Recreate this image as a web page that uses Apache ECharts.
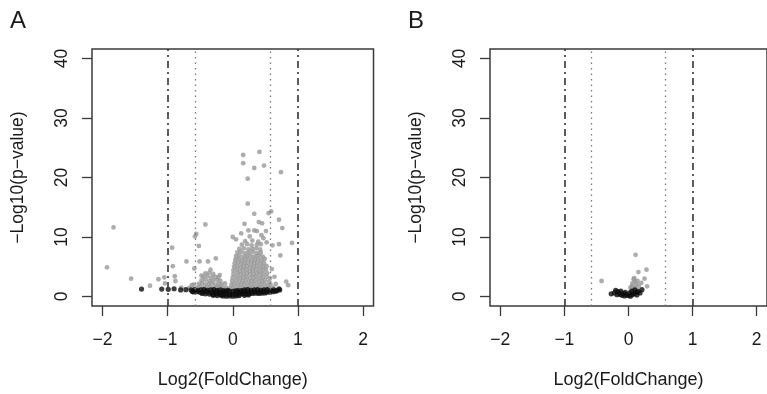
<!DOCTYPE html>
<html>
<head>
<meta charset="utf-8">
<script src="https://cdn.jsdelivr.net/npm/echarts@6/dist/echarts.min.js"></script>
<style>html,body{margin:0;padding:0;background:#fff}#c{width:767px;height:394px}</style>
</head>
<body>
<div id="c"></div>
<script>
const panelLabels = ['A', 'B'];
const xTitle = 'Log2(FoldChange)';
const yTitle = '\u2212Log10(p\u2212value)';
const xTicks = [-2, -1, 0, 1, 2];
const yTicks = [0, 10, 20, 30, 40];
const foldCutoffs = [-1, 1];
const fcDotted = [-0.585, 0.585];

// Panel A: significant (gray) points
const aGray = [
  [-1.93,4.9],[-1.83,11.6],[-1.56,3.0],[-1.27,1.8],[-1.14,2.9],[-1.05,3.2],[-1.04,2.2],
  [-0.93,8.2],[-0.92,5.1],[-0.89,3.4],[-0.88,2.6],[-0.79,1.5],[-0.71,5.9],[-0.67,1.4],
  [-0.60,2.0],[-0.59,4.7],[-0.56,10.5],[-0.58,10.1],[-0.52,8.5],[-0.51,5.9],[-0.42,12.1],
  [-0.38,5.9],[-0.26,6.4],[-0.63,1.9],[-0.48,3.5],[-0.20,3.6],[-0.12,2.2],
  [0.16,23.8],[0.41,24.3],[0.16,22.4],[0.48,22.0],[0.33,21.6],[0.74,20.9],[0.23,19.8],
  [0.23,15.6],[0.59,14.3],[0.55,14.0],[0.33,13.9],[0.71,12.9],[0.40,12.5],[0.45,12.3],
  [0.18,12.2],[0.76,11.5],[0.24,11.1],[0.33,11.1],[0.37,11.0],[0.51,11.0],[0.13,10.6],
  [0.00,10.0],[0.05,9.6],[0.26,10.1],[0.44,10.3],[0.47,9.8],[0.52,9.1],[0.61,8.6],
  [0.91,9.0],[0.71,8.8],[0.73,6.9],[0.82,2.5],[0.85,1.9],[0.66,2.1],[0.64,3.3],[0.60,4.6],
  // left cloud
  [-0.55,1.5],[-0.50,1.6],[-0.45,1.4],[-0.40,1.5],[-0.35,1.6],[-0.30,1.4],[-0.25,1.5],[-0.20,1.6],[-0.15,1.4],[-0.10,1.5],
  [-0.52,2.1],[-0.47,2.2],[-0.42,2.0],[-0.37,2.1],[-0.32,2.2],[-0.27,2.0],[-0.22,2.1],[-0.17,2.0],
  [-0.48,2.7],[-0.42,2.8],[-0.36,2.6],[-0.30,2.7],[-0.24,2.8],[-0.19,2.6],
  [-0.45,3.3],[-0.39,3.4],[-0.33,3.2],[-0.27,3.3],[-0.22,3.2],
  [-0.42,3.9],[-0.36,4.0],[-0.30,3.8],[-0.34,4.5],
  // right cloud
  [-0.04,1.4],[0.01,1.5],[0.06,1.3],[0.11,1.4],[0.16,1.5],[0.21,1.3],[0.26,1.4],[0.31,1.5],[0.36,1.3],[0.41,1.4],[0.46,1.5],[0.51,1.3],[0.56,1.4],[0.62,1.5],
  [-0.02,2.0],[0.03,2.1],[0.08,1.9],[0.13,2.0],[0.18,2.1],[0.23,1.9],[0.28,2.0],[0.33,2.1],[0.38,1.9],[0.43,2.0],[0.48,2.1],[0.53,1.9],[0.58,2.0],
  [-0.01,2.6],[0.05,2.7],[0.10,2.5],[0.15,2.6],[0.20,2.7],[0.25,2.5],[0.30,2.6],[0.35,2.7],[0.40,2.5],[0.45,2.6],[0.50,2.7],[0.56,2.5],
  [0.00,3.2],[0.06,3.3],[0.11,3.1],[0.16,3.2],[0.21,3.3],[0.26,3.1],[0.31,3.2],[0.36,3.3],[0.41,3.1],[0.46,3.2],[0.52,3.3],[0.57,3.1],
  [0.01,3.8],[0.07,3.9],[0.12,3.7],[0.17,3.8],[0.22,3.9],[0.27,3.7],[0.32,3.8],[0.37,3.9],[0.42,3.7],[0.47,3.8],[0.53,3.9],
  [0.01,4.4],[0.06,4.5],[0.11,4.3],[0.16,4.4],[0.21,4.5],[0.26,4.3],[0.31,4.4],[0.36,4.5],[0.41,4.3],[0.46,4.4],[0.51,4.5],
  [0.02,5.0],[0.07,5.1],[0.12,4.9],[0.17,5.0],[0.22,5.1],[0.27,4.9],[0.32,5.0],[0.37,5.1],[0.42,4.9],[0.47,5.0],[0.52,5.1],
  [0.03,5.6],[0.08,5.7],[0.13,5.5],[0.18,5.6],[0.23,5.7],[0.28,5.5],[0.33,5.6],[0.38,5.7],[0.43,5.5],[0.48,5.6],
  [0.04,6.2],[0.09,6.3],[0.14,6.1],[0.19,6.2],[0.24,6.3],[0.29,6.1],[0.34,6.2],[0.39,6.3],[0.44,6.1],[0.49,6.3],
  [0.05,6.8],[0.10,6.9],[0.16,6.7],[0.21,6.8],[0.26,6.9],[0.31,6.7],[0.36,6.8],[0.41,6.9],[0.46,6.7],
  [0.07,7.4],[0.13,7.5],[0.19,7.3],[0.25,7.4],[0.31,7.5],[0.37,7.3],[0.43,7.4],
  [0.10,8.0],[0.17,8.1],[0.24,7.9],[0.30,8.0],[0.36,8.1],[0.42,7.9],
  [0.14,8.7],[0.22,8.8],[0.29,8.6],[0.37,8.7],[0.43,8.8],
  [0.19,9.3],[0.30,9.4],[0.39,9.2]
];

// Panel A: non-significant (black) points
const aBlack = [
  [-1.40,1.25],[-1.09,1.25],[-0.99,1.2],[-0.90,1.3],[-0.80,1.1],[-0.72,1.15],[0.71,1.3],[0.72,1.1],
  [-0.64,1.1],[-0.59,1.15],[-0.54,1.05],[-0.49,1.1],[-0.44,1.15],[-0.39,1.05],[-0.34,1.1],[-0.29,1.15],[-0.24,1.05],[-0.19,1.1],[-0.14,1.0],
  [0.13,1.0],[0.18,1.1],[0.23,1.15],[0.28,1.05],[0.33,1.1],[0.38,1.15],[0.43,1.05],[0.48,1.1],[0.53,1.15],[0.58,1.05],[0.63,1.1],[0.68,1.0],
  [-0.62,0.85],[-0.60,0.75],[-0.55,0.8],[-0.50,0.7],[-0.45,0.75],[-0.40,0.8],[-0.35,0.7],[-0.30,0.75],[-0.25,0.8],[-0.20,0.7],[-0.15,0.75],[-0.10,0.8],
  [0.07,0.75],[0.12,0.7],[0.17,0.8],[0.22,0.75],[0.27,0.7],[0.32,0.8],[0.37,0.75],[0.42,0.7],[0.47,0.8],[0.52,0.75],[0.57,0.7],[0.62,0.8],[0.66,0.9],
  [-0.47,0.5],[-0.42,0.45],[-0.36,0.4],[-0.30,0.35],[-0.25,0.45],[-0.20,0.4],[-0.15,0.35],[-0.10,0.4],[-0.05,0.35],[0.00,0.4],[0.05,0.35],
  [0.10,0.4],[0.15,0.45],[0.20,0.4],[0.25,0.45],[0.30,0.5],[0.35,0.55],[0.40,0.5],[0.45,0.55],[0.50,0.6],
  [-0.30,0.2],[-0.24,0.15],[-0.18,0.2],[0.18,0.2],[0.24,0.25],
  [-0.15,0.1],[-0.10,0.05],[-0.05,0.1],[0.00,0.05],[0.05,0.1],[0.10,0.15],
  [-0.05,0.9],[0.00,0.85],[0.04,0.95],[-0.08,1.05],[0.08,1.0]
];

// Panel B
const bGray = [
  [-0.42,2.6],[0.11,7.0],[0.28,4.5],[0.155,4.1],[0.25,3.0],[0.08,2.9],[0.10,2.5],[0.06,2.2],
  [0.12,2.0],[0.09,3.1],[0.14,2.6],[0.05,1.7],[0.03,1.5],[0.07,1.3],[0.16,1.8],[0.29,1.7],
  [0.20,2.3],[0.10,1.5]
];
const bBlack = [
  [-0.27,0.45],[-0.20,1.05],[-0.17,0.8],[-0.15,0.6],[-0.13,0.35],[-0.10,0.2],[-0.08,0.5],
  [-0.06,0.1],[-0.03,0.3],[0.00,0.15],[0.03,0.05],[0.06,0.3],[0.09,0.5],[0.12,0.7],[0.15,0.9],
  [0.18,0.6],[0.21,1.15],[-0.18,0.3],[-0.12,0.9],[0.02,0.6],[-0.05,0.7],[0.05,0.9],[0.13,0.25],
  [-0.22,0.6],[0.10,1.1]
];

const FONT = '"Liberation Sans", Arial, Helvetica, sans-serif';
const AX = '#3a3a3a';
const TXT = '#1a1a1a';
const GRAY = '#999999';
const BLACK = '#0d0d0d';

function fmt(v) { return v < 0 ? '\u2212' + Math.abs(v) : String(v); }

const grids = [
  {left: 92, top: 49, width: 281.5, height: 260},
  {left: 490, top: 49, width: 281.5, height: 260}
];

function xAx(i) {
  return {
    gridIndex: i, type: 'value', min: -2.16, max: 2.16,
    axisLine: {show: false, onZero: false}, splitLine: {show: false},
    axisTick: {show: true, length: 10, customValues: xTicks, lineStyle: {color: AX, width: 1.3}},
    axisLabel: {customValues: xTicks, formatter: fmt, margin: 25, color: TXT, fontSize: 17.5, fontFamily: FONT},
    name: xTitle, nameLocation: 'middle', nameGap: 65,
    nameTextStyle: {color: TXT, fontSize: 18, fontFamily: FONT}
  };
}
function yAx(i) {
  return {
    gridIndex: i, type: 'value', min: -1.6, max: 41.6,
    axisLine: {show: false, onZero: false}, splitLine: {show: false},
    axisTick: {show: true, length: 10, customValues: yTicks, lineStyle: {color: AX, width: 1.3}},
    axisLabel: {customValues: yTicks, formatter: fmt, rotate: 90, margin: 21, color: TXT, fontSize: 17.5, fontFamily: FONT},
    name: yTitle, nameLocation: 'middle', nameGap: 65,
    nameTextStyle: {color: TXT, fontSize: 17.5, fontFamily: FONT}
  };
}

function vlines() {
  const d = [];
  foldCutoffs.forEach(v => d.push({xAxis: v, lineStyle: {color: '#333', width: 1.6, type: [7, 4, 2, 4]}}));
  fcDotted.forEach(v => d.push({xAxis: v, lineStyle: {color: '#7a7a7a', width: 1.3, type: [1.5, 4]}}));
  return {silent: true, symbol: 'none', label: {show: false}, data: d, animation: false};
}

function scat(i, data, color, withLines, size) {
  const s = {
    type: 'scatter', xAxisIndex: i, yAxisIndex: i, data: data,
    symbol: 'circle', symbolSize: size, itemStyle: {color: color}, silent: true
  };
  if (withLines) s.markLine = vlines();
  return s;
}

const chart = echarts.init(document.getElementById('c'), null, {renderer: 'canvas'});
chart.setOption({
  animation: false,
  backgroundColor: '#ffffff',
  grid: grids.map(g => Object.assign({show: true, borderColor: AX, borderWidth: 1.5, backgroundColor: 'transparent'}, g)),
  xAxis: [xAx(0), xAx(1)],
  yAxis: [yAx(0), yAx(1)],
  graphic: [
    {type: 'text', left: 10, top: 9, style: {text: panelLabels[0], fontSize: 24, fontFamily: FONT, fill: TXT}},
    {type: 'text', left: 408, top: 9, style: {text: panelLabels[1], fontSize: 24, fontFamily: FONT, fill: TXT}}
  ],
  series: [
    scat(0, aGray, GRAY, true, 4.8),
    scat(0, aBlack, BLACK, false, 5.2),
    scat(1, bGray, GRAY, true, 4.8),
    scat(1, bBlack, BLACK, false, 5.2)
  ]
});
</script>
</body>
</html>
